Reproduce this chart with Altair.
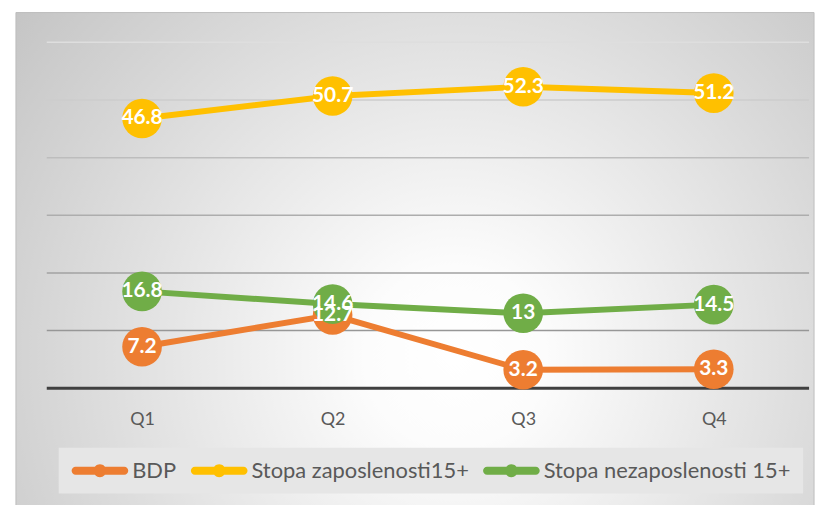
import altair as alt
import pandas as pd

quarters = ["Q1", "Q2", "Q3", "Q4"]
series_names = ["BDP", "Stopa zaposlenosti15+", "Stopa nezaposlenosti 15+"]
bdp = [7.2, 12.7, 3.2, 3.3]
zaposlenost = [46.8, 50.7, 52.3, 51.2]
nezaposlenost = [16.8, 14.6, 13, 14.5]
colors = ["#ED7D31", "#FFC000", "#70AD47"]
grid_values = [10, 20, 30, 40, 50, 60]
grid_colors = ["#979797", "#a2a2a2", "#adadad", "#bdbdbd", "#cdcdcd", "#dedede"]

rows = []
for si, (name, vals) in enumerate(zip(series_names, [bdp, zaposlenost, nezaposlenost])):
    for q, v in zip(quarters, vals):
        rows.append({"quarter": q, "series": name, "value": v, "sidx": si})
df = pd.DataFrame(rows)
grid_df = pd.DataFrame({"value": grid_values})
base_df = pd.DataFrame({"value": [0]})

color_scale = alt.Scale(domain=series_names, range=colors)
# same mapping, listed in reverse so the line scale does not merge with the legend scale
line_scale = alt.Scale(domain=series_names[::-1], range=colors[::-1])
y_scale = alt.Scale(domain=[0, 60], nice=False, zero=True)

x_enc = alt.X(
    "quarter:O",
    sort=quarters,
    scale=alt.Scale(type="point", padding=0.5),
    axis=alt.Axis(
        title=None, labelAngle=0, ticks=False, tickSize=0, domain=False,
        labelFont="Lato", labelFontSize=18, labelColor="#595959",
        labelPadding=22, grid=False, zindex=1,
    ),
)
y_enc = alt.Y("value:Q", scale=y_scale, axis=None)

bg = alt.Chart(pd.DataFrame({"a": [0]})).mark_rect(
    fill={
        "gradient": "radial",
        "x1": 0.55, "y1": 0.62, "r1": 0,
        "x2": 0.55, "y2": 0.62, "r2": 0.75,
        "stops": [
            {"offset": 0, "color": "#ffffff"},
            {"offset": 0.15, "color": "#fcfcfc"},
            {"offset": 1, "color": "#c0c0c0"},
        ],
    },
    stroke="#bdbdbd", strokeWidth=1,
).encode(x=alt.value(-31), x2=alt.value(772), y=alt.value(-30), y2=alt.value(470))

grid = alt.Chart(grid_df).mark_rule(strokeWidth=1.5).encode(
    y=y_enc,
    color=alt.Color("value:O", scale=alt.Scale(domain=grid_values, range=grid_colors), legend=None),
)

baseline = alt.Chart(base_df).mark_rule(strokeWidth=3, color="#404040").encode(y=y_enc)

base = alt.Chart(df)

lines = base.mark_line(strokeWidth=6).encode(
    x=x_enc, y=y_enc,
    stroke=alt.Stroke("series:N", scale=line_scale, legend=None),
)

# line-with-marker legend glyph; unit = 10 px for symbolSize 400
legend_path = (
    "M-0.6,-0.4 L4.3,-0.4 A0.4,0.4 0 0 1 4.3,0.4 L-0.6,0.4 "
    "A0.4,0.4 0 0 1 -0.6,-0.4 Z "
    "M1.2,0 A0.65,0.65 0 1 1 2.5,0 A0.65,0.65 0 1 1 1.2,0 Z"
)

points = base.mark_circle(size=1590, opacity=1).encode(
    x=x_enc, y=y_enc,
    fill=alt.Fill(
        "series:N", scale=color_scale,
        legend=alt.Legend(
            title=None, orient="none", legendX=12, legendY=408,
            direction="horizontal", symbolType=legend_path, symbolSize=400,
            symbolStrokeWidth=0, symbolOpacity=1,
            labelFont="Lato", labelFontSize=22, labelColor="#595959",
            labelLimit=400, labelOffset=40, columnPadding=13,
            padding=12, fillColor="#e6e6e6", zindex=1,
        ),
    ),
    order=alt.Order("sidx:Q"),
)

labels = base.mark_text(
    font="Lato", fontSize=21, fontWeight="bold", color="white",
    align="center", baseline="middle",
).encode(x=x_enc, y=y_enc, text=alt.Text("value:Q"))

chart = alt.layer(bg, grid, baseline, lines, points, labels).properties(
    width=767, height=348,
    padding={"left": 7, "top": 2, "right": 5, "bottom": 5},
).configure_view(stroke=None)

chart.save("out.html", embed_options={"renderer": "svg", "actions": False})
